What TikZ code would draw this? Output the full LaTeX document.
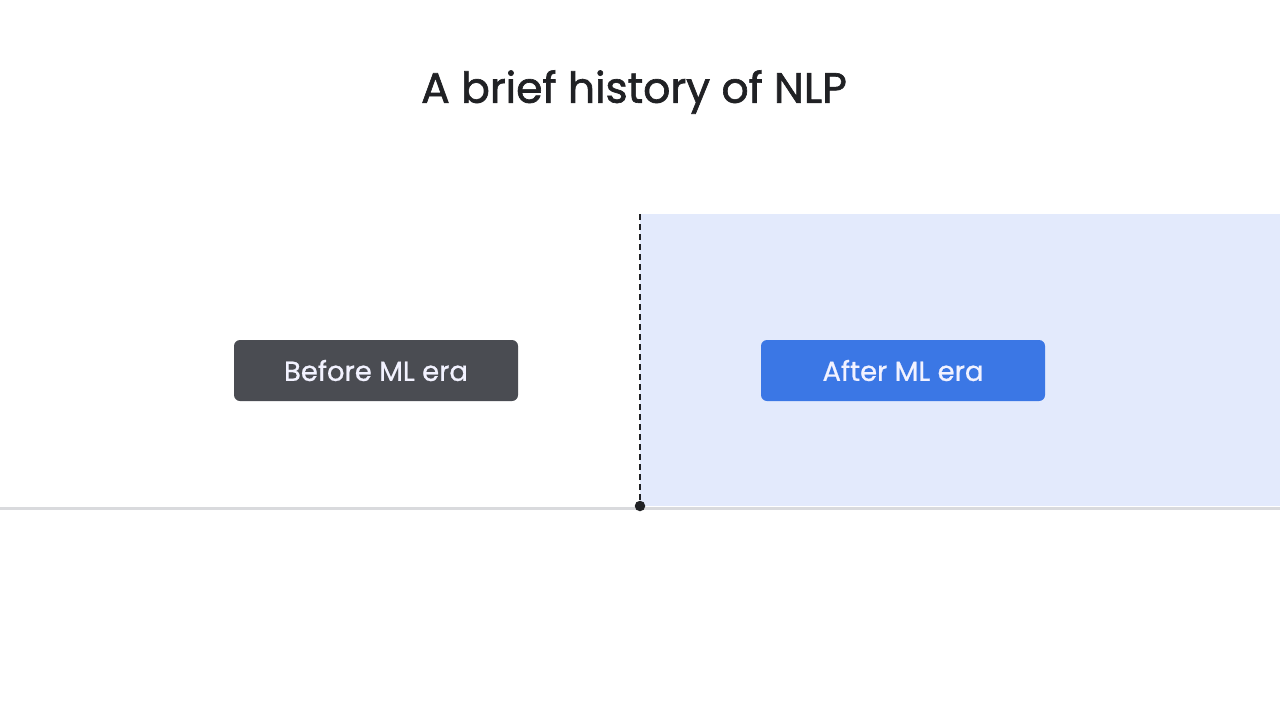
\documentclass[tikz,border=0pt]{standalone}
\usepackage{fontspec}
\setmainfont{Poppins}
\newfontfamily\titlefont{Poppins}[FakeBold=1.5]
\newfontfamily\boxfont{Poppins}[FakeBold=0.8]
\begin{document}
\begin{tikzpicture}[x=1pt,y=-1pt,
  erabox/.style={rounded corners=6pt, minimum width=284pt, minimum height=61pt, inner sep=0pt, text=white!95!blue, font=\boxfont\fontsize{27.5}{30}\selectfont},
  titletext/.style={font=\titlefont\fontsize{42.5}{50}\selectfont, text=ink}]
\definecolor{darkbox}{HTML}{4A4C52}
\definecolor{bluebox}{HTML}{3B77E5}
\definecolor{eraback}{HTML}{E3EAFC}
\definecolor{axis}{HTML}{D9DADD}
\definecolor{ink}{HTML}{202124}
\useasboundingbox[fill=white] (0,0) rectangle (1280,720);
\fill[eraback] (640,214) rectangle (1280,506);
\coordinate (L) at (0,508);
\coordinate (R) at (1280,508);
\draw[axis, line width=3pt] (L) -- (R);
\coordinate (top) at (640,214);
\node[circle, fill=ink, inner sep=0pt, minimum size=10.5pt] (dot) at (640,506) {};
\draw[ink, line width=1.8pt, dash pattern=on 6pt off 4pt] (top) -- (dot);
\node[titletext] (title) at (634,92) {A brief history of NLP};
\node[erabox, fill=darkbox] (before) at (376,370.5) {Before ML era};
\node[erabox, fill=bluebox] (after) at (903,370.5) {After ML era};
\end{tikzpicture}
\end{document}
